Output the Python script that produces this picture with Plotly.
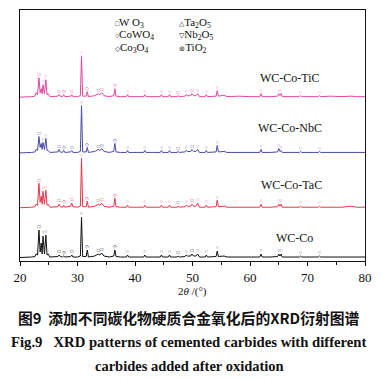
import plotly.graph_objects as go

# 2theta vertices (degrees) shared by all patterns
TWO_THETA = [
    20.0, 21.0, 22.0, 22.6, 22.8, 23.05, 23.3, 23.5, 23.7, 23.85, 24.0, 24.25, 24.5, 24.7, 24.9, 25.2,
    26.0, 26.6, 26.8, 27.0, 27.4, 27.6, 27.8, 28.8, 29.0, 29.2, 30.0, 30.5, 30.7, 30.9, 31.5, 31.7, 31.9,
    33.0, 33.6, 33.9, 34.2, 34.6, 35.5, 36.3, 36.5, 36.7, 37.5, 38.5, 38.7, 38.9, 40.5, 41.5, 41.7, 41.9,
    43.0, 44.4, 44.6, 44.8, 45.8, 46.0, 46.2, 47.3, 47.5, 47.7, 48.7, 48.9, 49.1, 49.7, 49.9, 50.2, 50.6, 50.9, 51.2, 52.2, 52.4, 52.6,
    54.1, 54.3, 54.5, 55.5, 56.0, 58.0, 60.0, 61.7, 61.9, 62.1, 63.5, 64.8, 65.0, 65.2, 65.4, 65.6, 67.0, 68.6, 68.8, 69.0, 71.9, 72.1, 72.3, 74.0, 76.0, 77.5, 78.5, 80.0,
]

# relative intensities (a.u.)
I_TIC = [
    0.5, 0.5, 1.0, 1.5, 5, 3, 20, 5, 9, 4, 13, 4, 18, 3, 4, 1,
    1, 1.5, 3, 1.5, 1, 3, 1, 1.5, 3, 1, 1, 2, 42, 1.5, 1.5, 6, 1,
    2, 4, 3, 5, 2, 1, 2, 9, 1.5, 1, 1, 3, 1, 1, 1, 3, 1,
    1, 1, 3, 1, 1, 3, 1, 1, 2, 1, 1.5, 3, 2, 2, 4, 2, 2, 4, 1, 1, 3, 1,
    1.5, 7, 1.5, 2.5, 1, 1.5, 1, 1, 4, 1, 1, 1.5, 4, 2, 4, 1, 1, 1, 2, 1, 1, 2, 1, 1.5, 1, 1.5, 1, 1,
]
I_NBC = [
    0.5, 0.5, 1.0, 1.5, 4, 3, 17, 6, 10, 4, 11, 4, 15, 3, 3, 1,
    1, 1.5, 4, 1.5, 1, 3, 1, 1.5, 3, 1, 1, 2, 48, 1.5, 1.5, 6, 1,
    2, 4, 3, 5, 2, 1, 2, 10, 1.5, 1, 1, 3, 1, 1, 1, 3, 1,
    1, 1, 3, 1, 1, 3, 1, 1, 2, 1, 1.5, 3, 2, 2, 4, 2, 2, 4, 1, 1, 3, 1,
    1.5, 8, 1.5, 2, 1, 1, 1, 1, 4, 1, 1, 1.5, 5, 2, 3, 1, 1, 1, 2, 1, 1, 2, 1, 1, 1, 1, 1, 1,
]
I_TAC = [
    0.5, 0.5, 1.0, 1.5, 4, 3, 25, 6, 12, 4, 17, 4, 18, 3, 4, 1,
    1, 1.5, 4, 1.5, 1, 3, 1, 2, 5, 1.5, 1, 2, 50, 1.5, 1.5, 7, 1,
    2, 4, 3, 5, 2, 1, 2, 10, 1.5, 1, 1, 3, 1, 1, 1, 3, 1,
    1, 1, 3, 1, 1, 3, 1, 1, 2, 1, 1.5, 3, 2, 2, 4, 2, 2, 5, 1, 1, 3, 1,
    1.5, 8, 1.5, 2, 1, 1, 1, 1, 4, 1, 1, 1.5, 4, 2, 4, 1, 1, 1, 2, 1, 1, 2, 1, 1, 1, 2, 1, 1,
]
I_WC = [
    0.5, 0.5, 1.0, 1.5, 4, 3, 28, 6, 15, 4, 22, 4, 23, 3, 4, 1,
    1, 1.5, 3, 1.5, 1, 2, 1, 1.5, 3, 1, 1, 2, 41, 1.5, 1.5, 8, 1,
    2, 4, 3, 5, 2, 1, 2, 8, 1.5, 1, 1, 3, 1, 1, 1, 3, 1,
    1, 1, 3, 1, 1, 3, 1, 1, 2, 1, 1.5, 3, 2, 2, 4, 2, 2, 4, 1, 1, 3, 1,
    1.5, 7, 1.5, 2, 1, 1, 1, 1, 4, 1, 1, 1.5, 4, 2, 4, 1, 1, 1, 2, 1, 1, 2, 1, 1, 1, 1.5, 1, 1,
]

SERIES = ["WC-Co-TiC", "WC-Co-NbC", "WC-Co-TaC", "WC-Co"]
INTENSITIES = [I_TIC, I_NBC, I_TAC, I_WC]
OFFSETS = [164, 108, 53, 3]
COLORS = ["#e2479f", "#4a4aa8", "#e8364a", "#111111"]
LABEL_POS = [(66.9, 184), (66.9, 134), (67.3, 76), (67.7, 23)]

# phase markers on peaks
MARK_2THETA = [23.3, 24.0, 24.5, 26.8, 27.6, 29.0, 30.7, 31.7, 33.6, 34.2, 36.5, 38.7, 41.7,
               44.6, 46.0, 47.5, 48.9, 49.9, 50.9, 52.4, 54.3, 61.9, 65.0, 65.4, 68.8, 72.1]
MARK_SYM = ["□", "○", "○", "□", "◇", "□", "○", "◇", "□", "□", "◇", "○", "○",
            "○", "○", "□", "○", "□", "○", "○", "○", "○", "○", "○", "○", "○"]

# phase legend
LEGEND_SYM = ["□", "○", "◇", "△", "▽", "⊚"]
LEGEND_PHASE = ["W O<sub>3</sub>", "CoWO<sub>4</sub>", "Co<sub>3</sub>O<sub>4</sub>",
                "Ta<sub>2</sub>O<sub>5</sub>", "Nb<sub>2</sub>O<sub>5</sub>", "TiO<sub>2</sub>"]
LEGEND_X = [36.5, 36.5, 36.5, 47.7, 47.7, 47.7]
LEGEND_Y = [239, 227, 214, 239, 227, 214]

SERIF = "Liberation Serif, Times New Roman, serif"

fig = go.Figure()
for name, ys, off, col in zip(SERIES, INTENSITIES, OFFSETS, COLORS):
    fig.add_trace(go.Scatter(x=TWO_THETA, y=[v + off for v in ys], mode="lines",
                             line=dict(color=col, width=1), name=name, showlegend=False))
    lookup = dict(zip(TWO_THETA, ys))
    fig.add_trace(go.Scatter(
        x=MARK_2THETA, y=[lookup[m] + off + 3 for m in MARK_2THETA], mode="text",
        text=MARK_SYM, textfont=dict(size=5, color=col), textposition="middle center",
        showlegend=False, hoverinfo="skip"))

fig.add_trace(go.Scatter(
    x=LEGEND_X, y=LEGEND_Y, mode="text", textposition="middle right",
    text=["<span style='font-size:7px'>" + s + "</span>" + p for s, p in zip(LEGEND_SYM, LEGEND_PHASE)],
    textfont=dict(family=SERIF, size=11, color="#111"), showlegend=False, hoverinfo="skip"))

for name, (lx, ly) in zip(SERIES, LABEL_POS):
    fig.add_annotation(x=lx, y=ly, xref="x", yref="y", text=name, showarrow=False,
                       font=dict(family=SERIF, size=12, color="#111"))

def py(pix):
    # pixel row -> paper coordinate (plot area spans rows 9..261)
    return (261 - pix) / 252.0

fig.add_annotation(x=0.5, xref="paper", y=py(292), yref="paper", yanchor="middle",
                   text="2<i>θ</i> /(°)", showarrow=False,
                   font=dict(family=SERIF, size=11, color="#111"))
fig.add_annotation(x=0.49, xref="paper", y=py(318), yref="paper", yanchor="middle",
                   text="<b>图9  添加不同碳化物硬质合金氧化后的XRD衍射图谱</b>",
                   showarrow=False, font=dict(family="Noto Sans CJK SC", size=14.8, color="#111"))
fig.add_annotation(x=0.49, xref="paper", y=py(342), yref="paper", yanchor="middle",
                   text="<b>Fig.9&nbsp;&nbsp; XRD patterns of cemented carbides with different</b>",
                   showarrow=False, font=dict(family=SERIF, size=14.7, color="#111"))
fig.add_annotation(x=0.49, xref="paper", y=py(366), yref="paper", yanchor="middle",
                   text="<b>carbides added after oxidation</b>",
                   showarrow=False, font=dict(family=SERIF, size=14.5, color="#111"))

fig.update_xaxes(range=[20, 80], dtick=10, ticks="outside", ticklen=4, tickwidth=1,
                 tickcolor="#111", showline=True, linecolor="#111", linewidth=1, mirror=True,
                 showgrid=False, zeroline=False,
                 minor=dict(dtick=5, ticks="outside", ticklen=3, tickcolor="#111"),
                 tickfont=dict(family=SERIF, size=13, color="#111"))
fig.update_yaxes(range=[0, 252], showticklabels=False, ticks="", showline=True, linecolor="#111",
                 linewidth=1, mirror=True, showgrid=False, zeroline=False)
fig.update_layout(width=381, height=380, margin=dict(l=20, r=13, t=9, b=119),
                  paper_bgcolor="white", plot_bgcolor="white", showlegend=False)
fig.write_html("out.html", config={"displayModeBar": False},
               post_script="document.body.style.margin='0';document.body.style.padding='0';")
